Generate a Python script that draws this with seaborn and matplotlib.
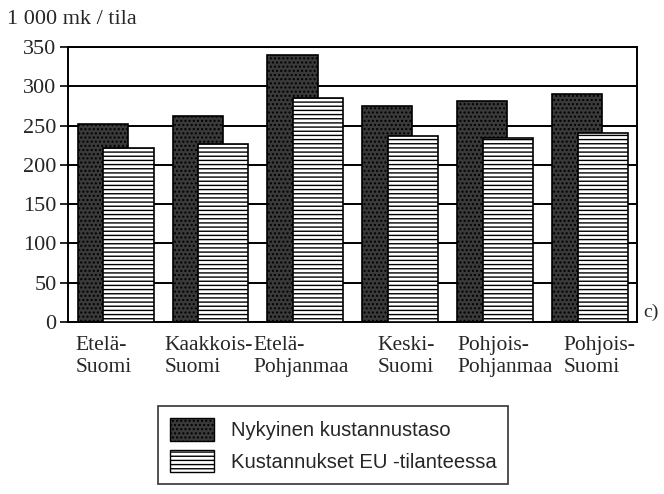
import numpy as np
import pandas as pd
import matplotlib
matplotlib.use("Agg")
import matplotlib.pyplot as plt
import seaborn as sns
from matplotlib.patches import Patch

# DATA (1 000 mk / tila)
regions = ["Etelä-\nSuomi", "Kaakkois-\nSuomi", "Etelä-\nPohjanmaa",
           "Keski-\nSuomi", "Pohjois-\nPohjanmaa", "Pohjois-\nSuomi"]
current_cost = [252, 262, 340, 275, 281, 290]
eu_cost = [221, 226, 285, 237, 234, 240]
series_names = ["Nykyinen kustannustaso", "Kustannukset EU -tilanteessa"]
y_ticks = [0, 50, 100, 150, 200, 250, 300, 350]

# label placement within each group (left edge of the text)
label_offsets = [0.08, 0.02, -0.04, 0.27, 0.105, 0.23]

# STYLE SETTINGS
sns.set_style("white")
plt.rcParams['font.family'] = ['Liberation Serif', 'DejaVu Serif']
plt.rcParams['hatch.linewidth'] = 1.0

idx = np.arange(len(regions))
df = pd.DataFrame({
    "region": regions,
    "current": current_cost,
    "eu": eu_cost,
    "pos_dark": idx + 0.37,
    "pos_light": idx + 0.64,
})

fig = plt.figure(figsize=(6.64, 4.94), dpi=100)
ax = fig.add_axes([0.102, 0.348, 0.857, 0.557])
ax.set_axisbelow(True)

# dark bars behind, striped bars in front
sns.barplot(data=df, x="pos_dark", y="current", native_scale=True, width=0.53,
            color="#3a3a3a", edgecolor="black", linewidth=1.2, hatch="....",
            ax=ax, zorder=2)
sns.barplot(data=df, x="pos_light", y="eu", native_scale=True, width=0.53,
            color="white", edgecolor="black", linewidth=1.2, hatch="----",
            ax=ax, zorder=3)

ax.set_xlim(0, len(regions))
ax.set_ylim(0, 350)
ax.set_yticks(y_ticks)
ax.set_yticklabels([str(t) for t in y_ticks], fontsize=16)
ax.yaxis.grid(True, color="black", linewidth=1.4)
ax.xaxis.grid(False)

ax.set_xticks(idx + np.array(label_offsets))
ax.set_xticklabels(regions, fontsize=15.5, ha="left", multialignment="left",
                   linespacing=1.2)
ax.tick_params(axis="x", length=0, pad=10)
ax.tick_params(axis="y", length=6, width=1.4, direction="out", pad=2, left=True)
for s in ax.spines.values():
    s.set_color("black")
    s.set_linewidth(1.4)

ax.set_xlabel("")
ax.set_ylabel("")

fig.text(0.010, 0.960, "1 000 mk / tila", fontsize=16, ha="left", va="center")
fig.text(0.968, 0.368, "c)", fontsize=14, ha="left", va="center")

handles = [
    Patch(facecolor="#3a3a3a", edgecolor="black", hatch="....", label=series_names[0]),
    Patch(facecolor="white", edgecolor="black", hatch="----", label=series_names[1]),
]
leg = fig.legend(handles=handles, loc="center", bbox_to_anchor=(0.5015, 0.099),
                 frameon=True, fancybox=False, edgecolor="black",
                 handlelength=2.2, handleheight=1.3, handletextpad=0.8,
                 borderpad=0.6, labelspacing=0.45,
                 prop={"family": ["Liberation Sans", "DejaVu Sans"], "size": 14.6})
leg.get_frame().set_linewidth(1.2)

fig.savefig("out.png", dpi=100)
